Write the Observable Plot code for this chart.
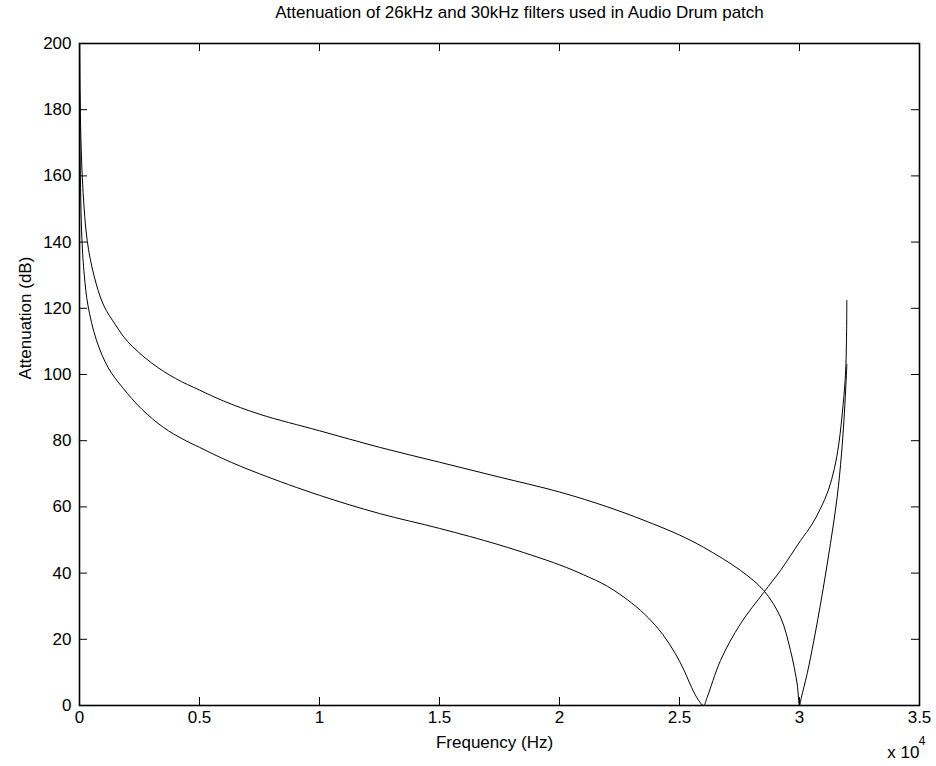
<!DOCTYPE html>
<html>
<head>
<meta charset="utf-8">
<script src="https://cdn.jsdelivr.net/npm/d3@7"></script>
<script src="https://cdn.jsdelivr.net/npm/@observablehq/plot@0.6"></script>
<style>
  html, body { margin: 0; padding: 0; background: #fff; }
  #chart svg { display: block; }
</style>
</head>
<body>
<div id="chart"></div>
<script>
// Attenuation (dB) of the 26 kHz filter, by frequency (Hz)
const freq26 = [10, 25, 100, 200, 350, 700, 1200, 1800, 2600, 3500, 4300, 5000, 6000, 7500, 10000, 12500, 15000, 17500, 20000, 21000, 22000, 23000, 23700, 24300, 24800, 25200, 25500, 25800, 26000, 26153, 26708, 27542, 28514, 29208, 30042, 30500, 30875, 31200, 31450, 31637, 31819, 31917, 31958, 31972];
const att26  = [185, 166, 141, 130, 121, 110.5, 102, 96, 89.5, 84, 80.5, 78, 74.5, 70, 63.5, 58, 53.5, 48.5, 42.5, 39.5, 36, 31, 26.5, 21.5, 16, 10.5, 5.5, 1.5, 0, 2.5, 13.6, 24.7, 34.2, 40.8, 49.8, 54.5, 59.5, 65, 71.5, 79, 91, 100.2, 110.3, 122.4];

// Attenuation (dB) of the 30 kHz filter, by frequency (Hz)
const freq30 = [10, 30, 71, 150, 320, 600, 1000, 1500, 2000, 3000, 4000, 5000, 6000, 7500, 10000, 12500, 15000, 17500, 20000, 22000, 23500, 25000, 26000, 27542, 28514, 29208, 29625, 29903, 30000, 30080, 30319, 30597, 30944, 31292, 31569, 31750, 31850, 31920, 31960, 31975];
const att30  = [200, 182, 168, 155, 140.5, 130, 121, 115, 110, 103.5, 98.8, 95.3, 92, 88, 83, 78, 73.5, 69, 64.5, 60, 56, 51.5, 47.8, 40.8, 34.7, 26.7, 16.6, 6.5, 0, 2.5, 9.6, 19.6, 33.5, 49, 62.9, 76, 86, 95, 101, 103];

// Axis ticks and their labels (frequency shown in units of 10^4 Hz)
const xTicks = [0, 5000, 10000, 15000, 20000, 25000, 30000, 35000];
const xTickLabels = ["0", "0.5", "1", "1.5", "2", "2.5", "3", "3.5"];
const yTicks = [0, 20, 40, 60, 80, 100, 120, 140, 160, 180, 200];

const titleText = "Attenuation of 26kHz and 30kHz filters used in Audio Drum patch";
const xLabel = "Frequency (Hz)";
const yLabel = "Attenuation (dB)";

const W = 936, H = 766;
const mTop = 43, mRight = 17, mBottom = 61, mLeft = 79;
const innerW = W - mLeft - mRight, innerH = H - mTop - mBottom;
const tickLen = 8;

const rows26 = freq26.map((f, i) => ({f, a: att26[i]}));
const rows30 = freq30.map((f, i) => ({f, a: att30[i]}));

const chart = Plot.plot({
  width: W,
  height: H,
  marginTop: mTop,
  marginRight: mRight,
  marginBottom: mBottom,
  marginLeft: mLeft,
  style: {fontFamily: "'Liberation Sans', Arial, Helvetica, sans-serif", fontSize: "17px", background: "#fff", color: "#000"},
  x: {domain: [0, 35000]},
  y: {domain: [0, 200]},
  marks: [
    // filter responses
    Plot.line(rows26, {x: "f", y: "a", stroke: "#000", strokeWidth: 1, curve: "catmull-rom", clip: true}),
    Plot.line(rows30, {x: "f", y: "a", stroke: "#000", strokeWidth: 1, curve: "catmull-rom", clip: true}),
    // inward ticks on all four sides
    Plot.ruleX(xTicks, {x: d => d, insetTop: innerH - tickLen, stroke: "#000", strokeWidth: 1}),
    Plot.ruleX(xTicks, {x: d => d, insetBottom: innerH - tickLen, stroke: "#000", strokeWidth: 1}),
    Plot.ruleY(yTicks, {y: d => d, insetRight: innerW - tickLen, stroke: "#000", strokeWidth: 1}),
    Plot.ruleY(yTicks, {y: d => d, insetLeft: innerW - tickLen, stroke: "#000", strokeWidth: 1}),
    Plot.frame({stroke: "#000", strokeWidth: 1.6}),
    // tick labels
    Plot.axisX(xTicks, {tickSize: 0, tickPadding: 5, label: null, fontSize: 17,
      tickFormat: d => xTickLabels[xTicks.indexOf(d)]}),
    Plot.axisY(yTicks, {tickSize: 0, tickPadding: 8, label: null, fontSize: 17}),
    // axis titles, exponent note and chart title
    Plot.text([xLabel], {frameAnchor: "bottom", dx: -5, dy: 37, lineAnchor: "middle", fontSize: 17}),
    Plot.text(["x 10"], {frameAnchor: "bottom-right", dx: 0, dy: 47, lineAnchor: "middle", textAnchor: "end", fontSize: 17}),
    Plot.text(["4"], {frameAnchor: "bottom-right", dx: 6, dy: 36, lineAnchor: "middle", textAnchor: "end", fontSize: 12}),
    Plot.text([yLabel], {frameAnchor: "left", dx: -54, dy: 5, rotate: -90, lineAnchor: "middle", fontSize: 17}),
    Plot.text([titleText], {frameAnchor: "top", dx: 20, dy: -31, lineAnchor: "middle", fontSize: 17})
  ]
});

document.getElementById("chart").appendChild(chart);
</script>
</body>
</html>
